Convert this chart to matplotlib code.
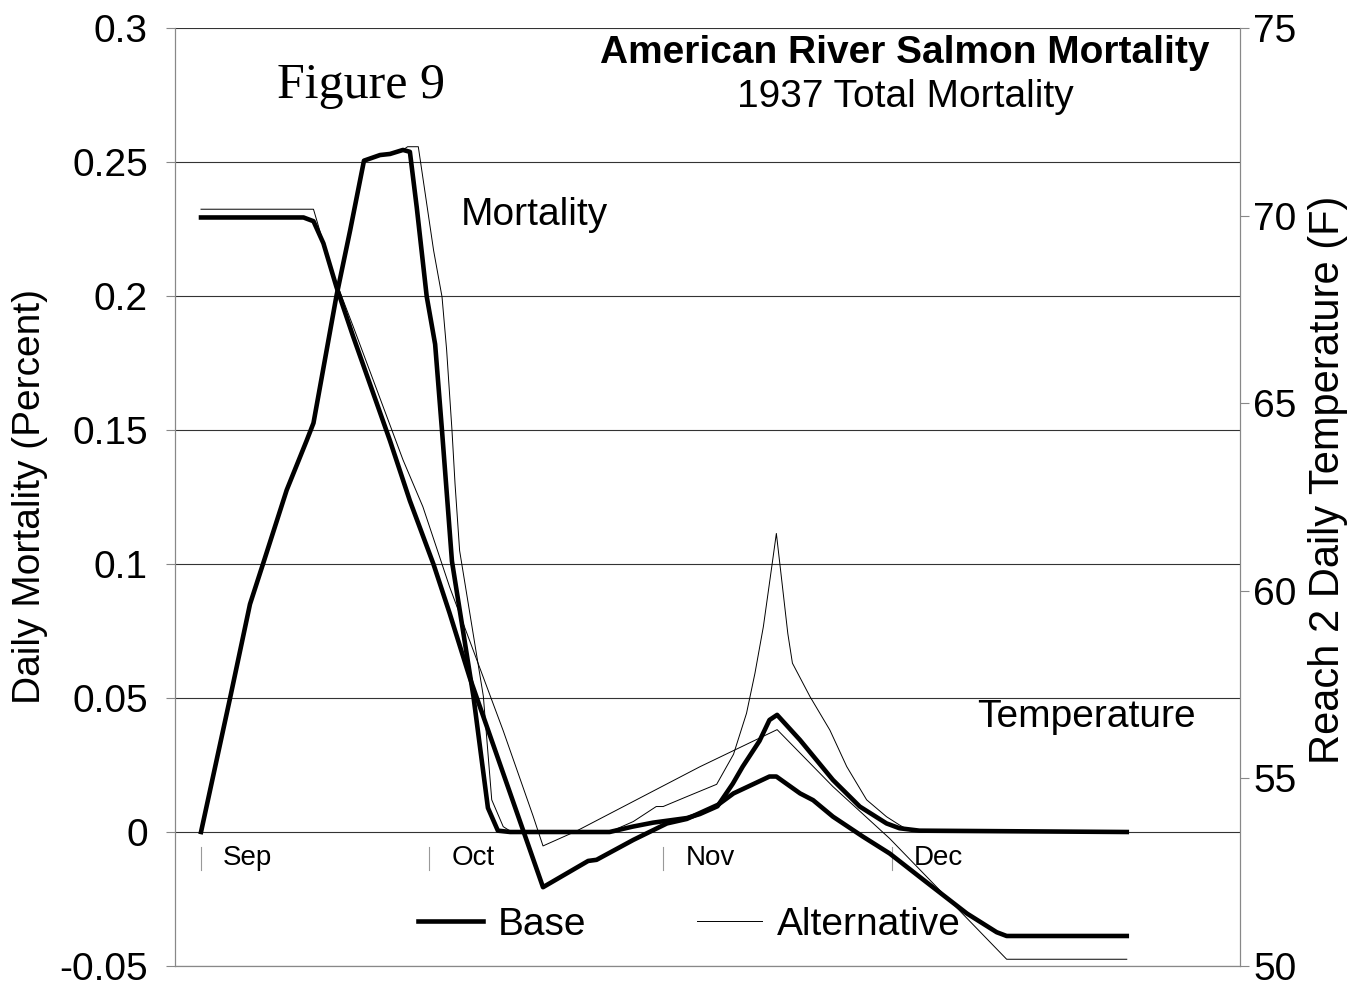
import matplotlib
matplotlib.use("Agg")
import matplotlib.pyplot as plt

plt.rcParams['font.family'] = ['Liberation Sans', 'DejaVu Sans']

# day index counted from Sep 1
base_mort_day = [0, 3.8, 6.4, 8.1, 11.2, 13.8, 14.7, 17.7, 19.5, 21.3, 23.4, 24.7, 26.4, 27.3,
                 28.2, 29.5, 30.6, 31.5, 32.8, 35.6, 37.5, 38.8, 40.4, 53.4, 56.4, 59.1, 61.7,
                 63.5, 65.2, 67.5, 69.5, 70.8, 73.0, 74.3, 75.3, 78.3, 82.6, 86.1, 89.6, 91.3,
                 93.9, 121]
base_mort = [0, 0.05, 0.085, 0.1, 0.1276, 0.146, 0.1526, 0.2, 0.2246, 0.2505, 0.2526, 0.253,
             0.2545, 0.2538, 0.233, 0.1998, 0.182, 0.1497, 0.101, 0.0507, 0.009, 0.0005, 0,
             0, 0.002, 0.0035, 0.0045, 0.0052, 0.0067, 0.0096, 0.018, 0.0244, 0.034, 0.0418,
             0.0437, 0.0343, 0.0194, 0.0095, 0.0032, 0.0014, 0.0005, 0]

alt_mort_day = [0, 3.8, 6.4, 8.1, 11.2, 13.8, 14.7, 17.7, 19.5, 21.3, 23.4, 24.7, 26.4, 27.0,
                28.4, 30.4, 31.5, 32.1, 32.8, 33.2, 33.8, 36.9, 38.0, 39.5, 40.6, 53.4, 56.5,
                59.5, 60.4, 63.5, 67.4, 69.6, 71.3, 72.4, 73.5, 74.6, 75.2, 75.9, 76.7, 77.3,
                79.6, 82.2, 84.4, 87.0, 89.6, 91.3, 92.6, 121]
alt_mort = [0, 0.05, 0.085, 0.1, 0.1276, 0.146, 0.1526, 0.2, 0.2246, 0.2505, 0.2526, 0.253,
            0.2545, 0.2557, 0.2557, 0.217, 0.1997, 0.18, 0.15, 0.13, 0.105, 0.0507, 0.012,
            0.002, 0, 0, 0.0039, 0.0095, 0.0095, 0.0132, 0.0178, 0.029, 0.0443, 0.0592,
            0.0766, 0.099, 0.1114, 0.094, 0.074, 0.063, 0.0505, 0.038, 0.0244, 0.012, 0.0057,
            0.0026, 0.0005, 0]

base_temp_day = [0, 13.4, 14.7, 16.0, 17.7, 19.9, 24.7, 27.3, 30.4, 32.5, 35.1, 44.7, 50.6,
                 51.7, 56.5, 60.9, 63.5, 67.6, 69.6, 74.3, 75.2, 78.3, 80.0, 82.6, 86.5, 90.0,
                 94.4, 100.1, 104.0, 105.3, 121]
base_temp = [69.95, 69.95, 69.85, 69.26, 68.1, 66.77, 64.0, 62.4, 60.7, 59.4, 57.7, 52.1, 52.8,
             52.83, 53.36, 53.8, 53.92, 54.3, 54.6, 55.05, 55.05, 54.6, 54.42, 53.98, 53.45,
             53.0, 52.3, 51.4, 50.9, 50.8, 50.8]

alt_temp_day = [0, 14.7, 16.9, 19.9, 26.4, 29.0, 32.5, 39.5, 43.4, 44.7, 49.1, 65.2, 75.3,
                82.6, 90.0, 105.3, 121]
alt_temp = [70.17, 70.17, 68.64, 67.04, 63.49, 62.24, 60.1, 56.27, 54.0, 53.2, 53.6, 55.31,
            56.3, 54.78, 53.4, 50.18, 50.18]

month_names = ['Sep', 'Oct', 'Nov', 'Dec']
month_day = [0, 29.8, 60.4, 90.3]

left_ticks = [-0.05, 0, 0.05, 0.1, 0.15, 0.2, 0.25, 0.3]
left_labels = ['-0.05', '0', '0.05', '0.1', '0.15', '0.2', '0.25', '0.3']
right_ticks = [50, 55, 60, 65, 70, 75]

W, H = 1361, 983
fig = plt.figure(figsize=(W / 100, H / 100), dpi=100)
ax = fig.add_axes([175 / W, 17 / H, 1065 / W, 938 / H])
ax2 = ax.twinx()

ax.set_xlim(-3.4, 135.8)
ax.set_ylim(-0.05, 0.3)
ax2.set_ylim(50, 75)

thick = 3.3
thin = 0.7
l_base, = ax.plot(base_mort_day, base_mort, color='black', lw=thick, solid_joinstyle='round')
l_alt, = ax.plot(alt_mort_day, alt_mort, color='black', lw=thin)
ax2.plot(base_temp_day, base_temp, color='black', lw=thick, solid_joinstyle='round')
ax2.plot(alt_temp_day, alt_temp, color='black', lw=thin)

ax.set_xticks([])
ax.set_yticks(left_ticks)
ax.set_yticklabels(left_labels, fontsize=28)
ax.yaxis.grid(True, color='#333333', lw=0.8)
ax.set_axisbelow(True)
ax.tick_params(axis='y', length=6.5, width=0.8, color='#888888', pad=13)

ax2.set_yticks(right_ticks)
ax2.tick_params(axis='y', labelsize=28, length=6.5, width=0.8, color='#888888', pad=3)

for a in (ax, ax2):
    a.spines['top'].set_visible(False)
    for s in ('left', 'right', 'bottom'):
        a.spines[s].set_color('#888888')
        a.spines[s].set_linewidth(0.8)

ax.set_ylabel('Daily Mortality (Percent)', fontsize=28)
ax.yaxis.set_label_coords(-0.119, 0.5)
ax2.set_ylabel('Reach 2 Daily Temperature (F)', fontsize=30, rotation=90)
ax2.yaxis.set_label_coords(1.064, 0.518)

# month markers under the zero line
for d, name in zip(month_day, month_names):
    ax.plot([d, d], [-0.0055, -0.0143], color='#999999', lw=0.8)
    ax.text(d + 2.9, -0.0123, name, fontsize=20, va='baseline', ha='left')

ax.legend([l_base, l_alt], ['Base', 'Alternative'], ncol=2, frameon=False, fontsize=28,
          handlelength=1.67, handletextpad=0.38, columnspacing=2.85,
          loc='center left', bbox_to_anchor=(0.228, 0.0437), borderaxespad=0, borderpad=0)

def fpos(x, y):
    return x / W, 1 - y / H

fig.text(*fpos(277, 98), 'Figure 9', family=['Liberation Serif', 'DejaVu Serif'],
         fontsize=36, va='baseline', ha='left')
fig.text(*fpos(905, 63), 'American River Salmon Mortality', fontsize=28, weight='bold',
         ha='center', va='baseline')
fig.text(*fpos(905, 107), '1937 Total Mortality', fontsize=28, ha='center', va='baseline')
fig.text(*fpos(461, 225), 'Mortality', fontsize=28, ha='left', va='baseline')
fig.text(*fpos(977, 727), 'Temperature', fontsize=28, ha='left', va='baseline')

fig.savefig('out.png', dpi=100)
